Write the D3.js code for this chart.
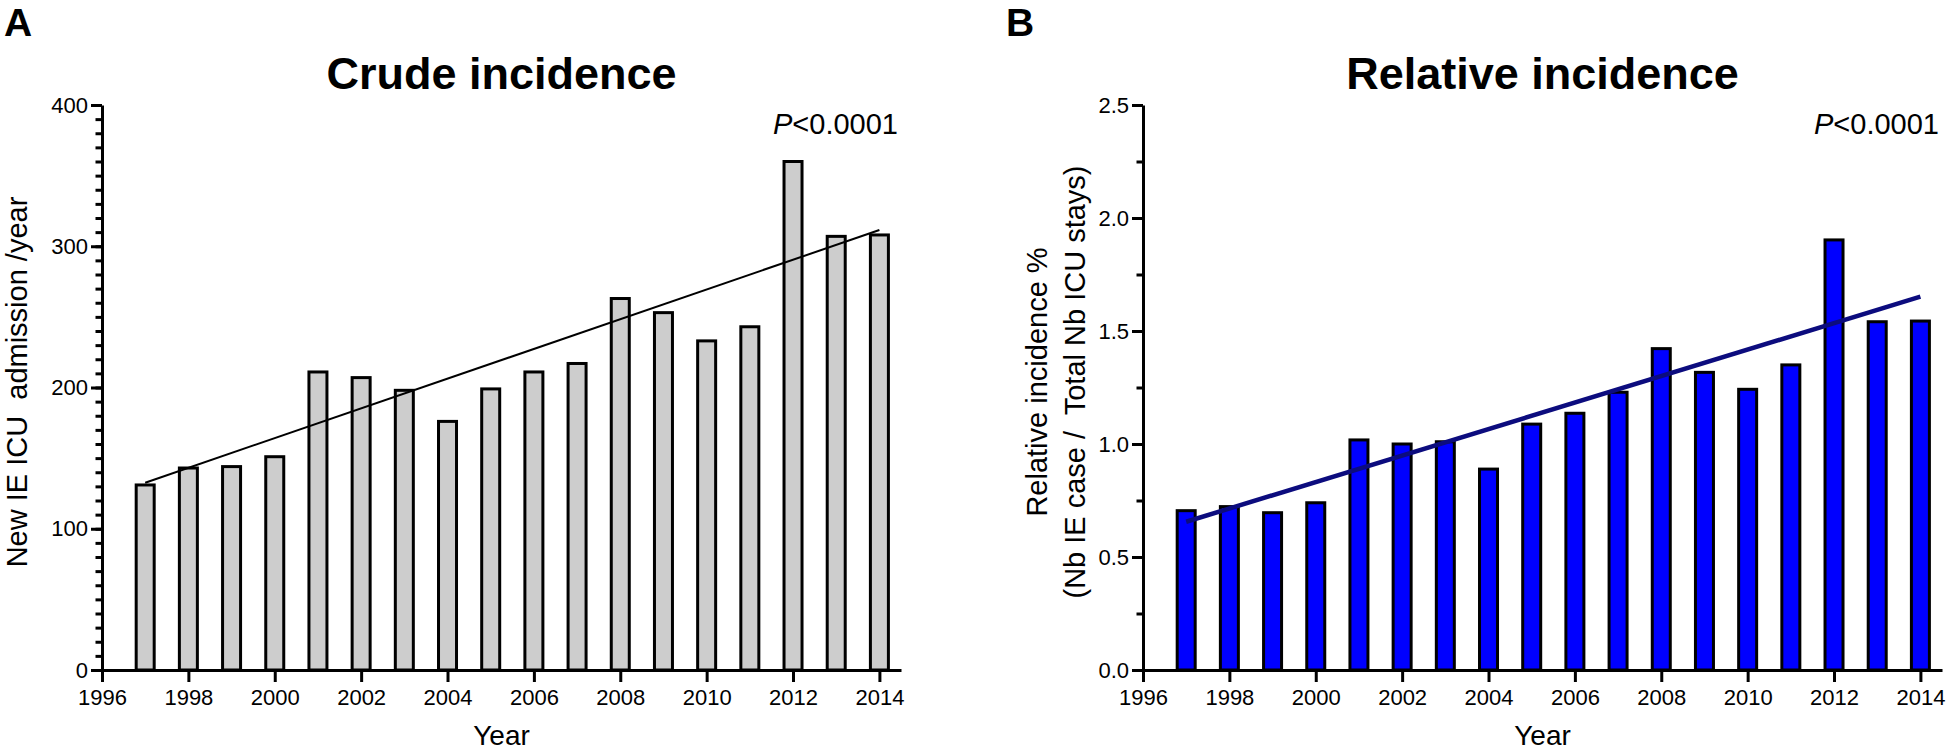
<!DOCTYPE html>
<html lang="en">
<head>
    <meta charset="UTF-8">
    <title>IE ICU incidence</title>
    <script src="https://d3js.org/d3.v7.min.js"></script>
    <style>
        body { margin: 0; background: #fff; }
        svg text { font-family: "Liberation Sans", Arial, Helvetica, sans-serif; fill: #000; }
        .axis path, .axis line { stroke: #000; stroke-width: 3px; }
        .axis text { font-size: 22px; }
    </style>
</head>
<body>
<svg id="chart" width="1946" height="751"></svg>
<script>

    // data
    var years = [1997, 1998, 1999, 2000, 2001, 2002, 2003, 2004, 2005, 2006, 2007, 2008, 2009, 2010, 2011, 2012, 2013, 2014];
    var crudeCounts = [131, 143, 144, 151, 211, 207, 198, 176, 199, 211, 217, 263, 253, 233, 243, 360, 307, 308];
    var relativePct = [0.705, 0.723, 0.696, 0.740, 1.018, 1.000, 1.010, 0.889, 1.088, 1.136, 1.229, 1.422, 1.317, 1.242, 1.350, 1.903, 1.541, 1.544];

    // regression lines (end points)
    var crudeTrend = [[1997, 132.6], [2014, 311.5]];
    var relativeTrend = [[1997, 0.656], [2014, 1.652]];

    var yearTicks = [1996, 1998, 2000, 2002, 2004, 2006, 2008, 2010, 2012, 2014];
    var crudeTicks = [0, 100, 200, 300, 400];
    var crudeMinor = d3.range(0, 401, 10);
    var relTicks = [0, 0.5, 1, 1.5, 2, 2.5];
    var relMinor = d3.range(0, 2.51, 0.25);

    var svg = d3.select("#chart");

    function drawPanel(p) {
        var x = d3.scaleLinear().domain([1996, 2014.5]).range([p.left, p.right]);
        var y = d3.scaleLinear().domain(p.yDomain).range([670, 105]);
        var g = svg.append("g");

        // bars
        var bw = 18;
        g.selectAll("rect.bar")
            .data(p.values)
            .enter()
            .append("rect")
            .attr("class", "bar")
            .attr("x", function(d, i) { return x(years[i]) - bw / 2; })
            .attr("y", function(d) { return y(d); })
            .attr("width", bw)
            .attr("height", function(d) { return y(0) - y(d); })
            .attr("fill", p.fill)
            .attr("stroke", "#000")
            .attr("stroke-width", 3);

        // trend line
        g.append("path")
            .datum(p.trend)
            .attr("d", d3.line().x(function(d) { return x(d[0]); }).y(function(d) { return y(d[1]); }))
            .attr("fill", "none")
            .attr("stroke", p.lineColor)
            .attr("stroke-width", p.lineWidth);

        // minor y ticks
        g.append("g")
            .attr("class", "axis")
            .attr("transform", "translate(" + p.left + ",0)")
            .call(d3.axisLeft(y).tickValues(p.minor).tickSize(6.5).tickFormat(""))
            .select(".domain").remove();

        // y axis
        g.append("g")
            .attr("class", "axis")
            .attr("transform", "translate(" + p.left + ",0)")
            .call(d3.axisLeft(y).tickValues(p.ticks).tickSize(11).tickSizeOuter(0).tickPadding(3).tickFormat(p.fmt));

        // x axis
        g.append("g")
            .attr("class", "axis")
            .attr("transform", "translate(0," + y(0) + ")")
            .call(d3.axisBottom(x).tickValues(yearTicks).tickSize(12).tickSizeOuter(0).tickPadding(7).tickFormat(d3.format("d")));

        var cx = (p.left + p.right) / 2;

        // title
        g.append("text")
            .attr("x", cx).attr("y", 89)
            .attr("text-anchor", "middle")
            .style("font-size", "45px").style("font-weight", "bold")
            .text(p.title);

        // panel letter
        g.append("text")
            .attr("x", p.letterX).attr("y", 36)
            .style("font-size", "39px").style("font-weight", "bold")
            .text(p.letter);

        // p value
        var pv = g.append("text")
            .attr("x", p.right - 3).attr("y", 134)
            .attr("text-anchor", "end")
            .style("font-size", "29px");
        pv.append("tspan").style("font-style", "italic").text("P");
        pv.append("tspan").text("<0.0001");

        // x label
        g.append("text")
            .attr("x", cx).attr("y", 745)
            .attr("text-anchor", "middle")
            .style("font-size", "28px")
            .text("Year");

        // y label (one or two lines)
        p.yLabel.forEach(function(line, i) {
            g.append("text")
                .attr("transform", "translate(" + p.yLabelX[i] + ",382) rotate(-90)")
                .attr("text-anchor", "middle")
                .style("font-size", "29px")
                .style("white-space", "pre")
                .text(line);
        });
    }

    drawPanel({
        left: 102, right: 901,
        yDomain: [0, 400], ticks: crudeTicks, minor: crudeMinor, fmt: d3.format("d"),
        values: crudeCounts, trend: crudeTrend,
        fill: "#cdcdcd", lineColor: "#000", lineWidth: 2,
        title: "Crude incidence", letter: "A", letterX: 4,
        yLabel: ["New IE ICU  admission /year"], yLabelX: [27]
    });

    drawPanel({
        left: 1143, right: 1942,
        yDomain: [0, 2.5], ticks: relTicks, minor: relMinor, fmt: d3.format(".1f"),
        values: relativePct, trend: relativeTrend,
        fill: "#0000ff", lineColor: "#0c0c7e", lineWidth: 4.5,
        title: "Relative incidence", letter: "B", letterX: 1006,
        yLabel: ["Relative incidence %", "(Nb IE case /  Total Nb ICU stays)"], yLabelX: [1047, 1085]
    });

</script>
</body>
</html>
